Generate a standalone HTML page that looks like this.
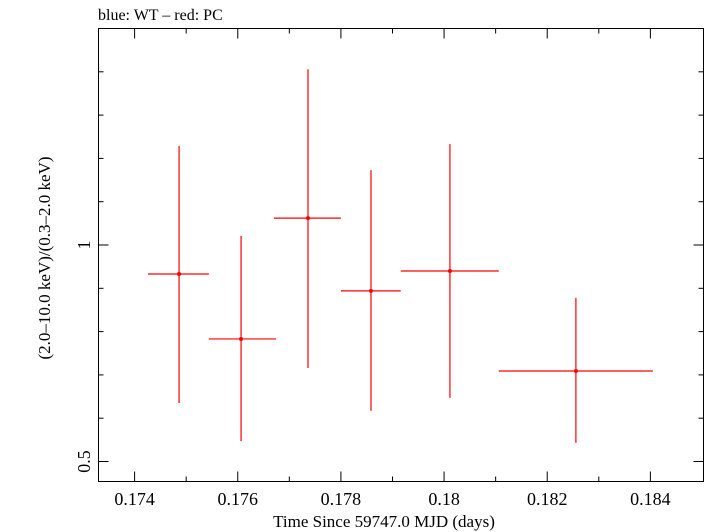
<!DOCTYPE html>
<html><head><meta charset="utf-8"><style>
body{margin:0;background:#fff;}
svg{display:block;font-family:"Liberation Serif",serif;}
</style></head><body>
<svg id="chart" width="705" height="532" xmlns="http://www.w3.org/2000/svg">
<text x="98" y="20" font-size="16">blue: WT – red: PC</text>
<rect x="98.5" y="28.5" width="605" height="453" fill="none" stroke="#000" stroke-width="1"/>
<g id="ticks"></g>
<g id="marks"></g>
<text x="384" y="527" font-size="17" text-anchor="middle">Time Since 59747.0 MJD (days)</text>
<text transform="translate(50,258) rotate(-90)" font-size="17" text-anchor="middle">(2.0–10.0 keV)/(0.3–2.0 keV)</text>
</svg>
<script>
const xCenters=[0.174862,0.176064,0.177362,0.178583,0.180114,0.182556];
const xLow=[0.17426,0.17544,0.17670,0.17800,0.17916,0.18106];
const xHigh=[0.17544,0.17674,0.17800,0.17916,0.18106,0.18405];
const yValues=[0.933,0.783,1.062,0.894,0.940,0.709];
const yLow=[0.635,0.547,0.716,0.617,0.647,0.543];
const yHigh=[1.229,1.021,1.406,1.173,1.233,0.878];
const xTickLabels=["0.174","0.176","0.178","0.18","0.182","0.184"];
const xTickValues=[0.174,0.176,0.178,0.18,0.182,0.184];
const yTickLabels=["0.5","1"];
const yTickValues=[0.5,1];
const yMinorValues=[0.6,0.7,0.8,0.9,1.1,1.2,1.3,1.4];
const xMinorValues=[0.175,0.177,0.179,0.181,0.183];

const L=98.5,R=703.5,T=28.5,B=481.5;
const xMin=0.17330,xMax=0.18503,yMin=0.4538,yMax=1.5;
const X=v=>L+(v-xMin)/(xMax-xMin)*(R-L);
const Y=v=>B-(v-yMin)/(yMax-yMin)*(B-T);
const NS="http://www.w3.org/2000/svg";
function mk(tag,attrs,parent){const e=document.createElementNS(NS,tag);for(const k in attrs)e.setAttribute(k,attrs[k]);parent.appendChild(e);return e;}
const tg=document.getElementById('ticks'),mg=document.getElementById('marks');
xTickValues.forEach((v,i)=>{
  const x=X(v);
  let l=mk('line',{x1:x,x2:x,y1:B,y2:B-10,stroke:'#000'},tg);
  
  
  l=mk('line',{x1:x,x2:x,y1:T,y2:T+10,stroke:'#000'},tg);
  
  
  const t=mk('text',{x:x,y:505,'font-size':18,'text-anchor':'middle'},tg);
  t.textContent=xTickLabels[i];
  
  
});
xMinorValues.forEach(v=>{
  const x=X(v);
  let l=mk('line',{x1:x,x2:x,y1:B,y2:B-5,stroke:'#000'},tg);
  
  
  l=mk('line',{x1:x,x2:x,y1:T,y2:T+5,stroke:'#000'},tg);
  
  
});
yTickValues.forEach((v,i)=>{
  const y=Y(v);
  let l=mk('line',{x1:L,x2:L+10,y1:y,y2:y,stroke:'#000'},tg);
  
  
  l=mk('line',{x1:R,x2:R-10,y1:y,y2:y,stroke:'#000'},tg);
  
  
  const t=mk('text',{transform:`translate(90,${y}) rotate(-90)`,'font-size':18,'text-anchor':'middle'},tg);
  t.textContent=yTickLabels[i];
  
  
});
yMinorValues.forEach(v=>{
  const y=Y(v);
  let l=mk('line',{x1:L,x2:L+5,y1:y,y2:y,stroke:'#000'},tg);
  
  
  l=mk('line',{x1:R,x2:R-5,y1:y,y2:y,stroke:'#000'},tg);
  
  
});
xCenters.forEach((xc,i)=>{
  const g=mk('g',{},mg);
  
  
  mk('line',{x1:X(xLow[i]),x2:X(xHigh[i]),y1:Y(yValues[i]),y2:Y(yValues[i]),stroke:'#f00','stroke-width':1.2},g);
  mk('line',{x1:X(xc),x2:X(xc),y1:Y(yLow[i]),y2:Y(yHigh[i]),stroke:'#f00','stroke-width':1.2},g);
  mk('circle',{cx:X(xc),cy:Y(yValues[i]),r:2,fill:'#f00'},g);
});
</script>
</body></html>
